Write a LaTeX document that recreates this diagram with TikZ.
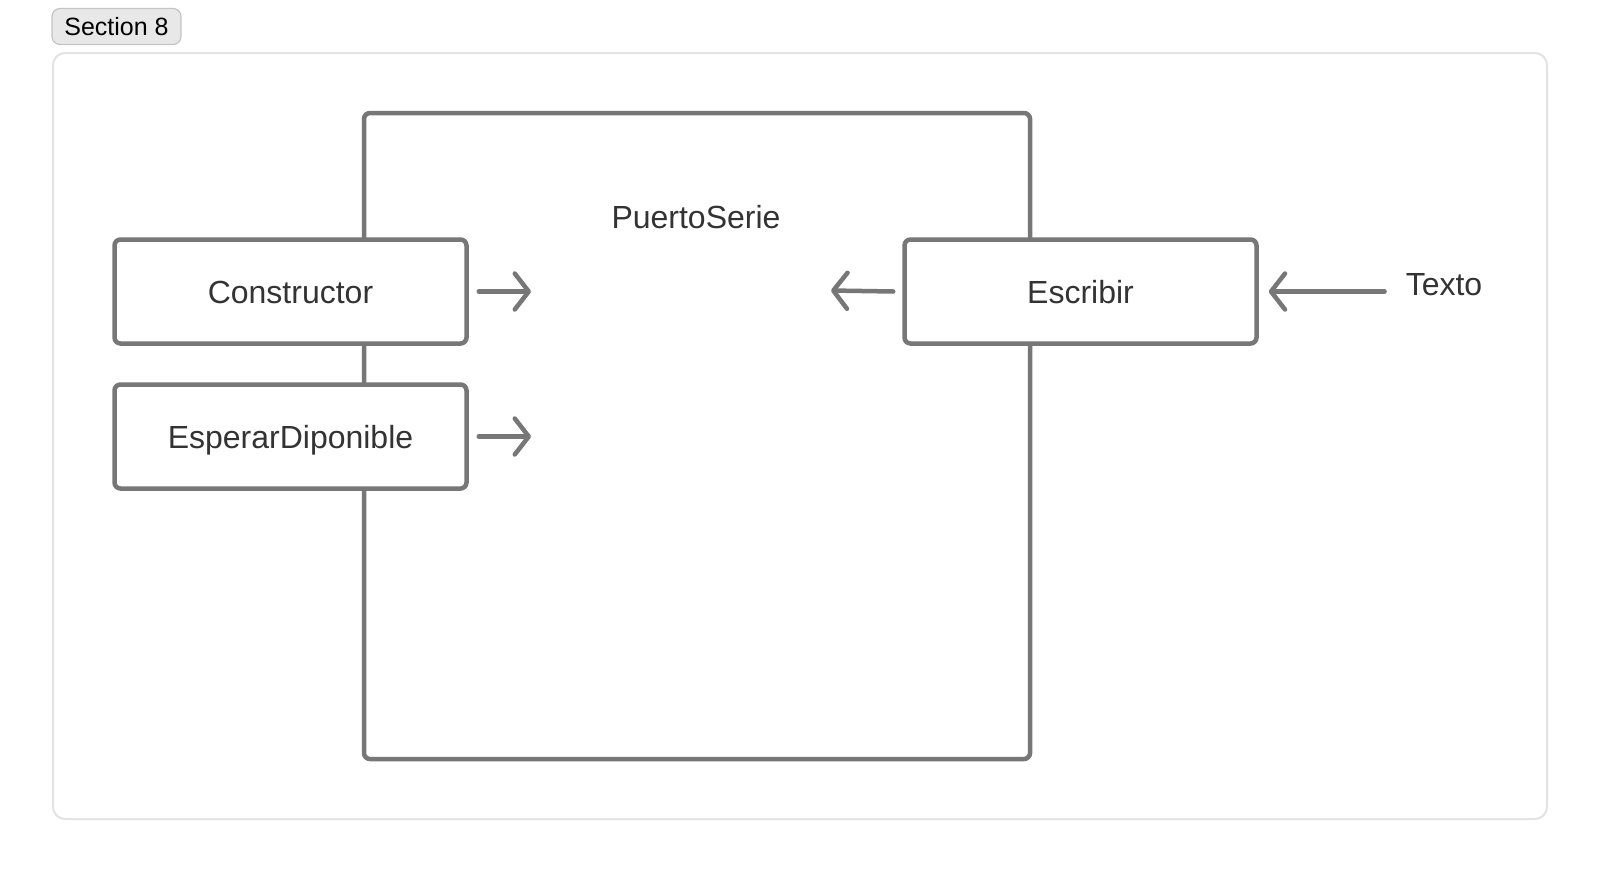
\documentclass[tikz,border=0pt]{standalone}
\usepackage{fontspec}
\setmainfont{Liberation Sans}
\usetikzlibrary{arrows.meta}
\definecolor{boxgray}{HTML}{777777}
\definecolor{txtdark}{HTML}{333333}
\definecolor{framegray}{HTML}{E3E3E3}
\definecolor{tagfill}{HTML}{E8E8E8}
\definecolor{tagline}{HTML}{C4C4C4}
\tikzset{
  fnbox/.style={draw=boxgray, line width=4.5pt, rounded corners=6pt, fill=white,
    minimum width=352pt, minimum height=104pt, inner sep=0pt,
    text height=23pt, text depth=0pt,
    font=\fontsize{32}{38}\selectfont, text=txtdark},
  lbl/.style={font=\fontsize{32}{38}\selectfont, text=txtdark, inner sep=0pt},
  arr/.style={draw=boxgray, line width=4.5pt, line cap=round, line join=round,
    -{Straight Barb[length=14pt,width=36pt,line cap=round,line join=round]}},
}
\begin{document}
\begin{tikzpicture}[x=1pt,y=-1pt]
\useasboundingbox[fill=white] (0,0) rectangle (1600,873);
% outer frame
\draw[framegray, line width=2pt, rounded corners=12pt] (53,53) rectangle (1547,819);
% section tag
\node[draw=tagline, fill=tagfill, line width=1.2pt, rounded corners=8pt,
  minimum width=129pt, minimum height=36pt, inner sep=0pt,
  font=\fontsize{25}{29}\selectfont, text=black] (tag) at (116.5,26.5) {Section 8};
% big box
\draw[boxgray, line width=4.5pt, rounded corners=6pt] (364,113) rectangle (1030,759);
\node[lbl] (ps) at (696,217) {PuertoSerie};
% function boxes
\node[fnbox] (cons) at (290.5,291.5) {Constructor};
\node[fnbox] (esp) at (290.5,436.5) {EsperarDiponible};
\node[fnbox] (esc) at (1080.5,291.5) {Escribir};
\node[lbl] (tex) at (1444,285) {Texto};
% arrow ends inside the big box
\coordinate (c1) at (531,291.5);
\coordinate (c2) at (531,436.5);
\coordinate (c3) at (831,290.5);
\draw[arr] ([xshift=10pt]cons.east) -- (c1);
\draw[arr] ([xshift=10pt]esp.east) -- (c2);
\draw[arr] ([xshift=-9pt]esc.west) -- (c3);
\draw[arr] ([xshift=-21pt]tex.west |- esc.east) -- ([xshift=10pt]esc.east);
\end{tikzpicture}
\end{document}
